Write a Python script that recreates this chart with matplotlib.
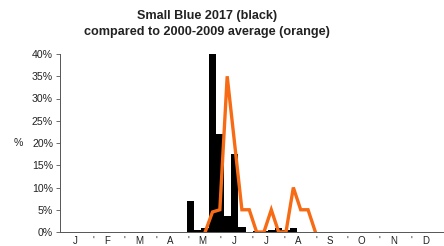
import matplotlib
matplotlib.use("Agg")
import matplotlib.pyplot as plt
import numpy as np

plt.rcParams['font.family'] = ['Liberation Sans', 'DejaVu Sans']

# Weekly data (week index 0..51), percent of annual count
weeks_2017 = [17, 18, 19, 20, 21, 22, 23, 24, 26, 27, 28, 29, 30, 31]
pct_2017 = [7.0, 0.5, 0.8, 40.0, 22.0, 3.5, 17.5, 1.2, 0.3, 0.3, 0.5, 1.0, 0.5, 1.0]

weeks_avg = [19, 20, 21, 22, 23, 24, 25, 26, 27, 28, 29, 30, 31, 32, 33, 34]
pct_avg = [0, 4.5, 5, 35, 20, 5, 5, 0, 0, 5, 0, 0, 10, 5, 5, 0]

months = ['J', 'F', 'M', 'A', 'M', 'J', 'J', 'A', 'S', 'O', 'N', 'D']
yticks = [0, 5, 10, 15, 20, 25, 30, 35, 40]

fig = plt.figure(figsize=(4.44, 2.46), dpi=100)
ax = fig.add_axes([60/444, 14/246, 384/444, (232-54)/246])

ax.bar(weeks_2017, pct_2017, width=1.0, align='edge', color='black', zorder=2)
ax.plot(np.array(weeks_avg) + 0.5, pct_avg, color='#F76B15', lw=2.4, zorder=3,
        solid_joinstyle='miter')

ax.set_xlim(-0.25, 52)
ax.set_ylim(0, 40)

mw = 52 / 12
ax.set_xticks([k * mw + 1.8 for k in range(12)])
ax.set_xticklabels(months, fontsize=7, color='#222222')
ax.set_xticks([k * mw - 0.1 for k in range(1, 12)], minor=True)
ax.set_xticklabels(["'"] * 11, minor=True, fontsize=7, color='#222222')
ax.tick_params(axis='x', which='both', length=0, pad=3)

ax.set_yticks(yticks)
ax.set_yticklabels([f"{v}%" for v in yticks], fontsize=7.6, color='#222222')
ax.tick_params(axis='y', length=3, width=0.6, color='#555555', pad=2)

ax.set_ylabel('%', rotation=0, fontsize=7.6, color='#222222', labelpad=10, va='center')

for s in ['top', 'right']:
    ax.spines[s].set_visible(False)
for s in ['left', 'bottom']:
    ax.spines[s].set_color('#555555')
    ax.spines[s].set_linewidth(0.7)

fig.text(207/444, 0.958, 'Small Blue 2017 (black)\ncompared to 2000-2009 average (orange)',
         ha='center', va='top', fontsize=9.1, fontweight='bold', color='#222222',
         linespacing=1.4)

fig.savefig('out.png', dpi=100)
